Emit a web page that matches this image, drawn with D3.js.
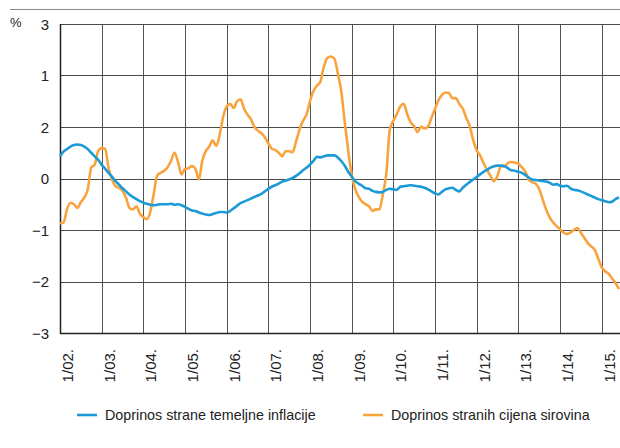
<!DOCTYPE html>
<html>
<head>
<meta charset="utf-8">
<script src="https://cdn.jsdelivr.net/npm/d3@7"></script>
<style>
  body { margin: 0; background: #fff; }
  svg { display: block; font-family: "Liberation Sans", Arial, sans-serif; }
</style>
</head>
<body>
<svg id="chart" width="620" height="448"></svg>
<script>
// monthly data, 1/2002 .. 6/2015
var startYear = 2002;

var coreInfl = [
  0.43, 0.52, 0.57, 0.62, 0.65, 0.66, 0.65, 0.62, 0.57, 0.50, 0.43, 0.36,
  0.27, 0.19, 0.11, 0.03, -0.05, -0.12, -0.19, -0.25, -0.31, -0.36, -0.40, -0.44,
  -0.47, -0.49, -0.51, -0.52, -0.51, -0.50, -0.50, -0.50, -0.49, -0.51, -0.50, -0.52,
  -0.55, -0.59, -0.62, -0.63, -0.66, -0.68, -0.70, -0.71, -0.69, -0.67, -0.65, -0.65,
  -0.66, -0.63, -0.58, -0.53, -0.48, -0.45, -0.42, -0.39, -0.36, -0.33, -0.30, -0.25,
  -0.20, -0.16, -0.13, -0.10, -0.06, -0.04, -0.02, 0.01, 0.05, 0.10, 0.16, 0.21,
  0.27, 0.34, 0.42, 0.41, 0.43, 0.45, 0.45, 0.45, 0.41, 0.34, 0.25, 0.13,
  0.04, -0.05, -0.10, -0.14, -0.19, -0.20, -0.24, -0.26, -0.27, -0.26, -0.22, -0.20,
  -0.21, -0.22, -0.16, -0.15, -0.14, -0.13, -0.14, -0.15, -0.16, -0.18, -0.21, -0.25,
  -0.29, -0.31, -0.26, -0.21, -0.19, -0.18, -0.22, -0.25, -0.18, -0.12, -0.07, -0.02,
  0.03, 0.08, 0.13, 0.17, 0.21, 0.24, 0.25, 0.25, 0.24, 0.20, 0.16, 0.15,
  0.13, 0.11, 0.07, 0.02, -0.02, -0.03, -0.04, -0.05, -0.06, -0.08, -0.12, -0.11,
  -0.14, -0.15, -0.14, -0.19, -0.22, -0.23, -0.25, -0.28, -0.31, -0.34, -0.37, -0.40,
  -0.42, -0.44, -0.46, -0.45, -0.40, -0.37
];

var commodity = [
  -0.87, -0.86, -0.60, -0.47, -0.50, -0.57, -0.46, -0.37, -0.21, 0.21, 0.27, 0.53,
  0.59, 0.58, 0.20, -0.02, -0.15, -0.18, -0.24, -0.37, -0.57, -0.60, -0.54, -0.68,
  -0.75, -0.79, -0.65, -0.30, 0.06, 0.11, 0.15, 0.22, 0.35, 0.50, 0.32, 0.08,
  0.18, 0.20, 0.24, 0.19, -0.02, 0.35, 0.53, 0.62, 0.74, 0.63, 0.85, 1.20,
  1.40, 1.45, 1.37, 1.50, 1.54, 1.36, 1.24, 1.15, 1.00, 0.93, 0.88, 0.80,
  0.68, 0.58, 0.55, 0.50, 0.43, 0.53, 0.53, 0.51, 0.72, 0.95, 1.12, 1.24,
  1.50, 1.70, 1.80, 1.88, 2.17, 2.34, 2.37, 2.33, 2.05, 1.70, 1.10, 0.55,
  0.08, -0.20, -0.35, -0.45, -0.50, -0.54, -0.63, -0.60, -0.60, -0.30, 0.10, 0.95,
  1.12, 1.25, 1.40, 1.45, 1.25, 1.09, 1.02, 0.90, 1.01, 0.97, 1.01, 1.18,
  1.35, 1.52, 1.62, 1.67, 1.66, 1.56, 1.56, 1.45, 1.36, 1.18, 1.02, 0.75,
  0.55, 0.45, 0.30, 0.17, 0.05, -0.05, 0.05, 0.24, 0.24, 0.30, 0.32, 0.31,
  0.29, 0.22, 0.14, -0.02, -0.07, -0.10, -0.20, -0.40, -0.60, -0.75, -0.85, -0.92,
  -0.98, -1.05, -1.08, -1.05, -1.00, -0.96, -1.05, -1.15, -1.25, -1.32, -1.38, -1.55,
  -1.72, -1.80, -1.85, -1.94, -2.03, -2.15
];

var yTicks = [3, 2, 1, 0, -1, -2, -3];
var yTickLabels = ["3", "1", "2", "0", "\u22121", "\u22122", "\u22123"];
var xTickLabels = ["1/02.", "1/03.", "1/04.", "1/05.", "1/06.", "1/07.", "1/08.",
  "1/09.", "1/10.", "1/11.", "1/12.", "1/13.", "1/14.", "1/15."];
var seriesNames = ["Doprinos strane temeljne inflacije", "Doprinos stranih cijena sirovina"];
var colours = ["#1b9ad7", "#f9a33f"];

var svg = d3.select("#chart");
var margin = {left: 60, right: 0, top: 24, bottom: 115};
var W = 620, H = 448;

// x in months from 1/2002
var x = d3.scaleLinear()
    .domain([0, 161.3])
    .range([margin.left, W - margin.right]);
var y = d3.scaleLinear()
    .domain([-3, 3])
    .range([H - margin.bottom, margin.top]);

// top rule
svg.append("line")
    .attr("x1", 10).attr("x2", W)
    .attr("y1", 9.5).attr("y2", 9.5)
    .attr("stroke", "#8a8a8a")
    .attr("stroke-width", 1.2);

svg.append("text")
    .attr("x", 10).attr("y", 27)
    .style("font-size", "13px")
    .attr("fill", "#222")
    .text("%");

// vertical grid (one per year)
var yearIdx = d3.range(1, xTickLabels.length);
svg.append("g")
  .selectAll("line")
  .data(yearIdx)
  .enter()
  .append("line")
    .attr("x1", i => Math.round(x(i * 12)) + 0.5)
    .attr("x2", i => Math.round(x(i * 12)) + 0.5)
    .attr("y1", margin.top).attr("y2", H - margin.bottom)
    .attr("stroke", "#555")
    .attr("stroke-width", 1);

// horizontal grid
svg.append("g")
  .selectAll("line")
  .data(yTicks)
  .enter()
  .append("line")
    .attr("x1", margin.left).attr("x2", W)
    .attr("y1", d => Math.round(y(d)) + 0.5)
    .attr("y2", d => Math.round(y(d)) + 0.5)
    .attr("stroke", d => d === -3 ? "#222" : "#4a4a4a")
    .attr("stroke-width", d => d === -3 ? 1.5 : 1);

// left axis line
svg.append("line")
    .attr("x1", margin.left + 0.5).attr("x2", margin.left + 0.5)
    .attr("y1", margin.top).attr("y2", H - margin.bottom + 1)
    .attr("stroke", "#222")
    .attr("stroke-width", 1.5);

// y labels
svg.append("g")
  .selectAll("text")
  .data(yTicks)
  .enter()
  .append("text")
    .attr("x", 49)
    .attr("y", d => y(d) + 5.5)
    .attr("text-anchor", "end")
    .style("font-size", "15px")
    .attr("fill", "#222")
    .text((d, i) => yTickLabels[i]);

// x labels (rotated)
svg.append("g")
  .selectAll("text")
  .data(xTickLabels)
  .enter()
  .append("text")
    .attr("transform", (d, i) => "translate(" + (x(i * 12) + 13) + "," + 349 + ") rotate(-90)")
    .attr("text-anchor", "end")
    .style("font-size", "15px")
    .attr("fill", "#222")
    .text(d => d);

// lines
var line = d3.line()
    .x((d, i) => x(i))
    .y(d => y(d))
    .curve(d3.curveMonotoneX);

svg.append("path")
    .datum(commodity)
    .attr("fill", "none")
    .attr("stroke", colours[1])
    .attr("stroke-width", 2.6)
    .attr("stroke-linejoin", "round")
    .attr("d", line);

svg.append("path")
    .datum(coreInfl)
    .attr("fill", "none")
    .attr("stroke", colours[0])
    .attr("stroke-width", 2.6)
    .attr("stroke-linejoin", "round")
    .attr("d", line);

// legend
var legendX = [77, 363];
var legend = svg.append("g");
legend.selectAll("line")
    .data(seriesNames)
    .enter()
    .append("line")
      .attr("x1", (d, i) => legendX[i])
      .attr("x2", (d, i) => legendX[i] + 20)
      .attr("y1", 415).attr("y2", 415)
      .attr("stroke", (d, i) => colours[i])
      .attr("stroke-width", 2.6);

legend.selectAll("text")
    .data(seriesNames)
    .enter()
    .append("text")
      .attr("x", (d, i) => legendX[i] + 28)
      .attr("y", 420)
      .style("font-size", "14.3px")
      .attr("fill", "#222")
      .text(d => d);
</script>
</body>
</html>
